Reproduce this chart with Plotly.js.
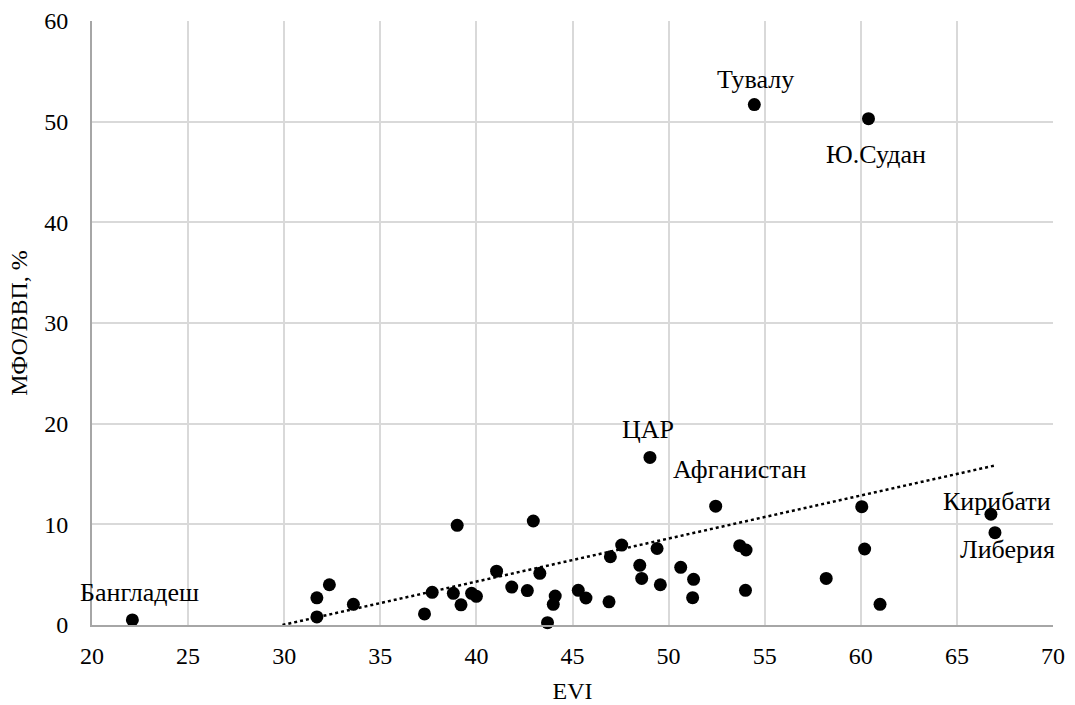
<!DOCTYPE html>
<html>
<head>
<meta charset="utf-8">
<script src="https://cdn.plot.ly/plotly-3.0.1.min.js"></script>
<style>html,body{margin:0;padding:0;background:#fff;}#chart{width:1075px;height:705px;}</style>
</head>
<body>
<div id="chart"></div>
<script>
// EVI values (x) and MFO/GDP, % (y)
const evi = [22.1, 31.7, 31.7, 32.35, 33.6, 37.3, 37.7, 38.8, 39.2, 39.0, 39.75, 40.0, 41.05, 41.84, 42.65,
  42.96, 43.3, 44.1, 44.0, 43.7, 45.3, 45.7, 46.9, 46.97, 47.56, 48.5, 48.6, 49.4, 49.57, 50.63, 51.3, 51.25,
  52.45, 53.7, 54.03, 54.0, 60.05, 60.2, 58.2, 61.0, 66.77, 66.98, 54.46, 60.4, 49.03];
const mfo = [0.5, 0.8, 2.7, 4.0, 2.05, 1.1, 3.25, 3.15, 2.0, 9.9, 3.15, 2.85, 5.35, 3.77, 3.42,
  10.33, 5.13, 2.88, 2.05, 0.23, 3.44, 2.68, 2.3, 6.78, 7.94, 5.93, 4.63, 7.6, 4.0, 5.73, 4.54, 2.71,
  11.8, 7.88, 7.45, 3.44, 11.75, 7.55, 4.63, 2.05, 11.0, 9.17, 51.7, 50.3, 16.65];

// labelled countries
const labelNames = ["Бангладеш", "Тувалу", "Ю.Судан", "ЦАР", "Афганистан", "Кирибати", "Либерия"];
const labelX = [22.1, 54.46, 60.4, 49.03, 52.45, 66.77, 66.98];
const labelY = [0.5, 51.7, 50.3, 16.65, 11.8, 11.0, 9.17];

const xTicks = [20, 25, 30, 35, 40, 45, 50, 55, 60, 65, 70];
const yTicks = [0, 10, 20, 30, 40, 50, 60];

// linear trend (least squares) from data
const n = evi.length;
const mx = evi.reduce((a, b) => a + b, 0) / n;
const my = mfo.reduce((a, b) => a + b, 0) / n;
let sxy = 0, sxx = 0;
for (let i = 0; i < n; i++) { sxy += (evi[i] - mx) * (mfo[i] - my); sxx += (evi[i] - mx) ** 2; }
const slope = sxy / sxx, intercept = my - slope * mx;
const xMin = Math.min(...evi), xMax = Math.max(...evi);
const x0 = Math.max(xMin, -intercept / slope);
const trendX = [x0, xMax];
const trendY = trendX.map(v => intercept + slope * v);

const fam = "'Liberation Serif', 'Times New Roman', 'DejaVu Serif', serif";
const font = {family: fam, size: 24, color: "#000"};
const labelFont = {family: fam, size: 26, color: "#000"};

// label offsets in pixels (style)
const offs = [[7, 27], [1, 25], [8, -36], [-2, 28], [24, 37], [6, 13], [13, -17]];

const annotations = labelNames.map((t, i) => ({
  x: labelX[i], y: labelY[i], xref: "x", yref: "y", text: t, showarrow: false,
  xanchor: "center", yanchor: "middle", xshift: offs[i][0], yshift: offs[i][1], font: labelFont
}));

const traces = [
  {x: evi, y: mfo, mode: "markers", type: "scatter", marker: {color: "#000", size: 13}, cliponaxis: false},
  {x: trendX, y: trendY, mode: "lines", type: "scatter", line: {color: "#000", width: 2.5, dash: "dot"}}
];

const layout = {
  width: 1075, height: 705,
  margin: {l: 92, r: 22, t: 21, b: 80},
  paper_bgcolor: "#fff", plot_bgcolor: "#fff",
  showlegend: false,
  font: font,
  annotations: annotations,
  xaxis: {range: [20, 70], tickvals: xTicks, ticktext: xTicks.map(String), showgrid: true, gridcolor: "#d9d9d9", gridwidth: 2,
    showline: true, linecolor: "#a6a6a6", linewidth: 2, zeroline: false, ticks: "", ticklen: 0, ticklabelstandoff: 8,
    title: {text: "EVI", font: font, standoff: 14}, tickfont: font},
  yaxis: {range: [0, 60], tickvals: yTicks, ticktext: yTicks.map(String), showgrid: true, gridcolor: "#d9d9d9", gridwidth: 2,
    showline: true, linecolor: "#a6a6a6", linewidth: 2, zeroline: false, ticks: "", ticklen: 0, ticklabelstandoff: 17,
    title: {text: "МФО/ВВП, %", font: font, standoff: 10}, tickfont: font}
};

Plotly.newPlot("chart", traces, layout, {staticPlot: true});
</script>
</body>
</html>
